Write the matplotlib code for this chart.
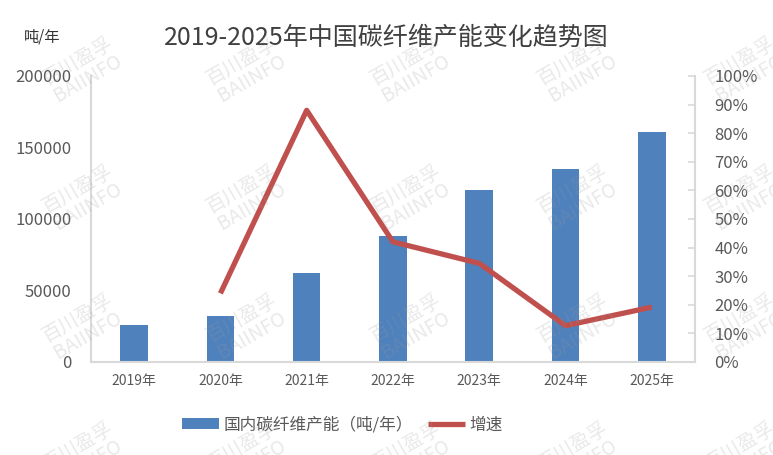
import matplotlib
matplotlib.use("Agg")
import matplotlib.pyplot as plt
import matplotlib.ticker as ticker
import numpy as np

plt.rcParams['font.family'] = ['Noto Sans CJK SC', 'DejaVu Sans']

# data
years = ['2019年', '2020年', '2021年', '2022年', '2023年', '2024年', '2025年']
capacity = [26000, 32000, 62000, 88000, 120000, 135000, 161000]
growth = [np.nan, 0.24, 0.88, 0.42, 0.345, 0.127, 0.192]

bar_color = '#4F81BD'
line_color = '#C0504D'
axis_gray = '#D9D9D9'
text_gray = '#595959'

fig = plt.figure(figsize=(7.73, 4.55), dpi=100)
ax = fig.add_axes([0.1177, 0.2044, 0.7813, 0.6286])
ax2 = ax.twinx()

x = np.arange(len(years))
ax.bar(x, capacity, width=0.32, color=bar_color, label='国内碳纤维产能（吨/年）', zorder=2)
ax2.plot(x, growth, color=line_color, lw=3.8, solid_capstyle='butt', label='增速', zorder=3)

ax.set_xlim(-0.5, len(years) - 0.5)
ax.set_ylim(0, 200000)
ax.yaxis.set_major_locator(ticker.MultipleLocator(50000))
ax2.set_ylim(0, 1.0)
ax2.yaxis.set_major_locator(ticker.MultipleLocator(0.1))
ax2.yaxis.set_major_formatter(ticker.FuncFormatter(lambda v, p: f'{v*100:.0f}%'))

ax.set_xticks(x)
ax.set_xticklabels(years)

for a in (ax, ax2):
    for s in a.spines.values():
        s.set_visible(False)
ax.spines['left'].set_visible(True)
ax.spines['bottom'].set_visible(True)
ax2.spines['right'].set_visible(True)
for s in (ax.spines['left'], ax.spines['bottom'], ax2.spines['right']):
    s.set_color(axis_gray)
    s.set_linewidth(1.5)

ax.tick_params(axis='y', length=0, pad=14, labelsize=12, labelcolor=text_gray)
ax.tick_params(axis='x', length=0, pad=9, labelsize=10, labelcolor=text_gray)
ax2.tick_params(axis='y', direction='in', length=5, width=1.2, color=axis_gray,
                pad=14, labelsize=12, labelcolor=text_gray)
for lab in ax2.get_yticklabels():
    lab.set_horizontalalignment('left')

# title and unit
fig.text(0.5, 0.918, '2019-2025年中国碳纤维产能变化趋势图', ha='center', va='center',
         fontsize=18, color='#404040')
fig.text(0.054, 0.918, '吨/年', ha='center', va='center', fontsize=11, color='#333333')

# legend
h1, l1 = ax.get_legend_handles_labels()
h2, l2 = ax2.get_legend_handles_labels()
fig.legend(h1 + h2, l1 + l2, loc='center', bbox_to_anchor=(0.443, 0.066), ncol=2,
           frameon=False, fontsize=12, labelcolor=text_gray, handlelength=2.2,
           handleheight=0.7, columnspacing=0.9, handletextpad=0.3)

# watermarks
wm_x = [83, 247, 411, 578, 745]
wm_y = [70, 198, 327, 455]
for wx in wm_x:
    for wy in wm_y:
        fig.text(wx / 773, 1 - wy / 455, '百川盈孚\nBAIINFO', ha='center', va='center',
                 rotation=30, fontsize=14, color='#9a9a9a', alpha=0.22,
                 linespacing=0.95, zorder=10, multialignment='center')

fig.savefig('out.png', dpi=100)
